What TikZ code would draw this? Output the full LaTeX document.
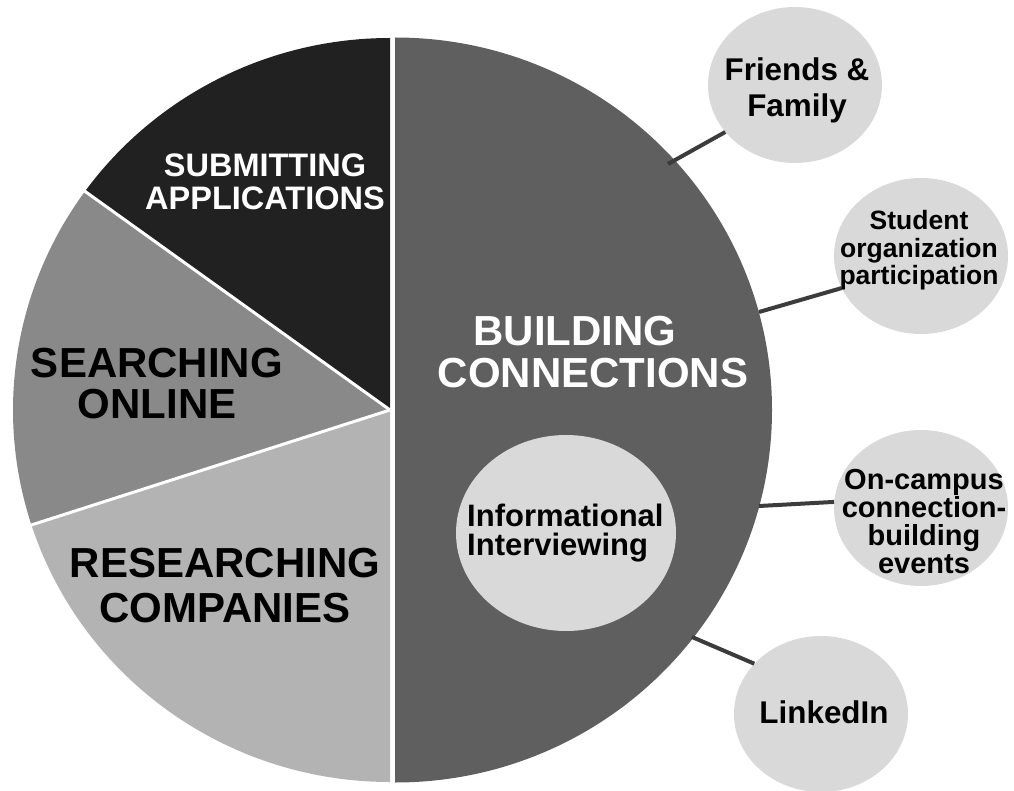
\documentclass[tikz,border=0pt]{standalone}
\usepackage{fontspec}
\setmainfont{Liberation Sans}
\usetikzlibrary{shapes.geometric}
\definecolor{csub}{HTML}{212121}
\definecolor{csea}{HTML}{898989}
\definecolor{cres}{HTML}{B3B3B3}
\definecolor{cbui}{HTML}{5F5F5F}
\definecolor{cbub}{HTML}{D9D9D9}
\definecolor{ccon}{HTML}{3C3C3C}
\newcommand{\fs}[2]{\fontsize{#1}{#2}\selectfont}
\tikzset{
  bubble/.style={ellipse, fill=cbub, draw=none, inner sep=0pt, minimum width=174pt, minimum height=156pt},
  conn/.style={draw=ccon, line width=4pt},
  lbl/.style={inner sep=0pt, align=center, anchor=base},
  sep/.style={draw=white, line width=3pt}
}
\begin{document}
\begin{tikzpicture}[x=1pt,y=-1pt]
\useasboundingbox (0,0) rectangle (1014,791);
% left slices
\coordinate (cl) at (390,410);
\coordinate (cr) at (395,410);
\fill[csub] (cl) -- +(-90:377 and 372) arc[start angle=-90, end angle=-144, x radius=377, y radius=372] -- cycle;
\fill[csea] (cl) -- +(-144:377 and 372) arc[start angle=-144, end angle=-198, x radius=377, y radius=372] -- cycle;
\fill[cres] (cl) -- +(-198:377 and 372) arc[start angle=-198, end angle=-270, x radius=377, y radius=372] -- cycle;
\draw[sep] (cl) -- +(-144:378 and 373);
\draw[sep] (cl) -- +(-198:378 and 373);
% right half
\fill[cbui] (cr) -- +(-90:377 and 372.5) arc[start angle=-90, end angle=90, x radius=377, y radius=372.5] -- cycle;
% slice labels
\node[lbl, text=white, font=\bfseries\fs{32.5}{33}] (tsub) at (265,210) {SUBMITTING\\APPLICATIONS};
\node[lbl, font=\bfseries\fs{42}{41}] (tsea) at (157,418) {SEARCHING\\ONLINE};
\node[lbl, font=\bfseries\fs{42}{45}] (tres) at (225,622) {RESEARCHING\\COMPANIES};
\node[lbl, text=white, font=\bfseries\fs{42}{42}] (tbui) at (593,387) {BUILDING\hspace*{36pt}\\CONNECTIONS};
% informational interviewing
\node[bubble, minimum width=220pt, minimum height=196pt] (ii) at (566,533) {};
\node[lbl, align=left, anchor=base west, font=\bfseries\fs{31}{28.5}] (tii) at (467,555) {Informational\\Interviewing};
% connector ends on the pie
\coordinate (e1) at (668,164);
\coordinate (e2) at (759,312);
\coordinate (e3) at (759,506);
\coordinate (e4) at (692,637);
% bubbles
\node[bubble] (ff) at (795,85) {};
\node[bubble] (so) at (921,256) {};
\node[bubble] (oc) at (921,508) {};
\node[bubble] (li) at (821,714) {};
\draw[conn] (e1) -- (ff.214.5);
\draw[conn] (e2) -- (so.202);
\draw[conn] (e3) -- (oc.176.7);
\draw[conn] (e4) -- (li.143.4);
\node[lbl, font=\bfseries\fs{31.4}{36}] (tff) at (797,117) {Friends \&\\Family};
\node[lbl, font=\bfseries\fs{26.5}{27.5}] (tso) at (919,285) {Student\\organization\\participation};
\node[lbl, font=\bfseries\fs{29}{27.7}] (toc) at (924,573) {On-campus\\connection-\\building\\events};
\node[lbl, font=\bfseries\fs{31.4}{36}] (tli) at (824,723) {LinkedIn};
\end{tikzpicture}
\end{document}
